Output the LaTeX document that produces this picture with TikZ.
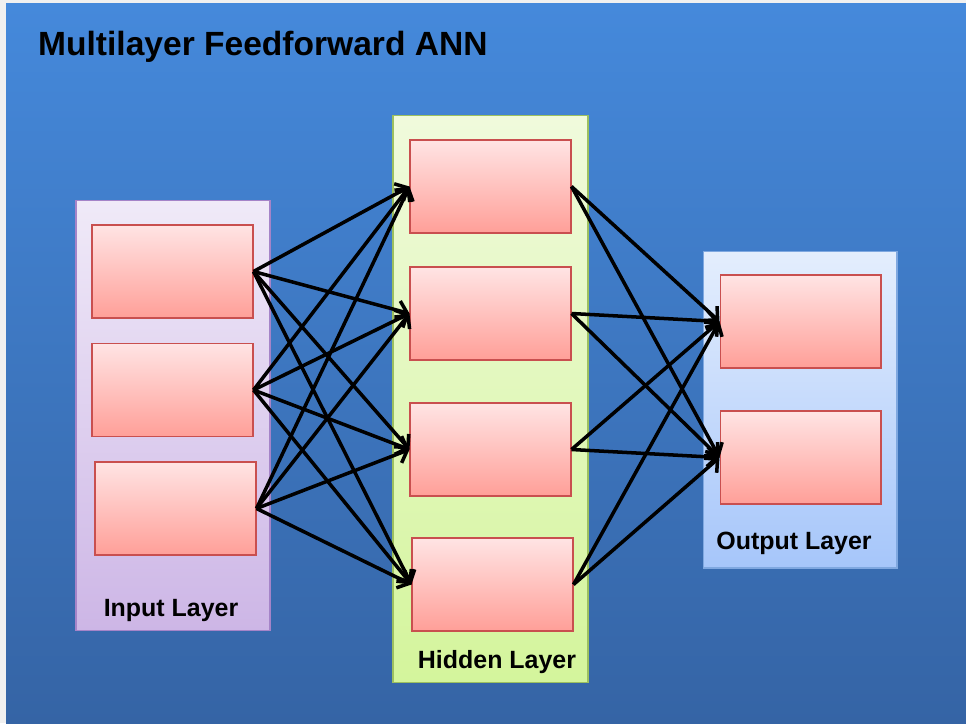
\documentclass[tikz,border=0pt]{standalone}
\usepackage{fontspec}
\setmainfont{Liberation Sans}
\usetikzlibrary{arrows.meta,shadings}
\definecolor{bgtop}{HTML}{4589DB}
\definecolor{bgbot}{HTML}{3564A5}
\definecolor{celltop}{HTML}{FFE4E4}
\definecolor{cellbot}{HTML}{FF9F98}
\definecolor{cellline}{HTML}{C94F4F}
\definecolor{intop}{HTML}{F0EAF8}
\definecolor{inbot}{HTML}{CDB6E6}
\definecolor{inline}{HTML}{A584C8}
\definecolor{hidtop}{HTML}{F0FADC}
\definecolor{hidbot}{HTML}{D4F59C}
\definecolor{hidline}{HTML}{9CC060}
\definecolor{outtop}{HTML}{E4EEFD}
\definecolor{outbot}{HTML}{A6C6FA}
\definecolor{outline}{HTML}{7FA8E0}
\begin{document}
\begin{tikzpicture}[x=0.02cm,y=-0.02cm,
	cell/.style={draw=cellline,line width=.6pt,top color=celltop,bottom color=cellbot,minimum width=3.22cm,minimum height=1.86cm,inner sep=0pt},
	panel/.style={line width=.6pt,minimum width=3.88cm,inner sep=0pt},
	tag/.style={font=\bfseries\fontsize{14.2}{16}\selectfont},
	link/.style={line width=2pt,-{Straight Barb[length=5.5pt,width=11pt]}}]
	\useasboundingbox (0,0) rectangle (966,723);
	\fill[gray!12] (0,0) rectangle (966,723);
	\shade[top color=bgtop,bottom color=bgbot] (6,4) rectangle (966,723);
	\node[anchor=west,font=\bfseries\fontsize{19.1}{22}\selectfont] (title) at (32,47) {Multilayer Feedforward ANN};
	% layers
	\node[panel,draw=inline,top color=intop,bottom color=inbot,minimum height=8.62cm] (inlayer) at (173,415.5) {};
	\node[panel,draw=hidline,top color=hidtop,bottom color=hidbot,minimum width=3.9cm,minimum height=11.36cm] (hidlayer) at (490.5,399) {};
	\node[panel,draw=outline,top color=outtop,bottom color=outbot,minimum height=6.34cm] (outlayer) at (800,409.5) {};
	\node[tag] (intag) at (171,610) {Input Layer};
	\node[tag] (hidtag) at (497,662) {Hidden Layer};
	\node[tag] (outtag) at (794,543) {Output Layer};
	% units
	\node[cell] (in1) at (172.5,271.5) {};
	\node[cell] (in2) at (172.5,390) {};
	\node[cell] (in3) at (175.5,508.5) {};
	\node[cell] (hid1) at (490.5,186.5) {};
	\node[cell] (hid2) at (490.5,313.5) {};
	\node[cell] (hid3) at (490.5,449.5) {};
	\node[cell] (hid4) at (492.5,584.5) {};
	\node[cell] (out1) at (800.5,321.5) {};
	\node[cell] (out2) at (800.5,457.5) {};
	% weights
	\foreach \i in {1,2,3}
		\foreach \h in {1,...,4}
			\draw[link] (in\i.east) -- (hid\h.west);
	\foreach \h in {1,...,4}
		\foreach \o in {1,2}
			\draw[link] (hid\h.east) -- (out\o.west);
\end{tikzpicture}
\end{document}
